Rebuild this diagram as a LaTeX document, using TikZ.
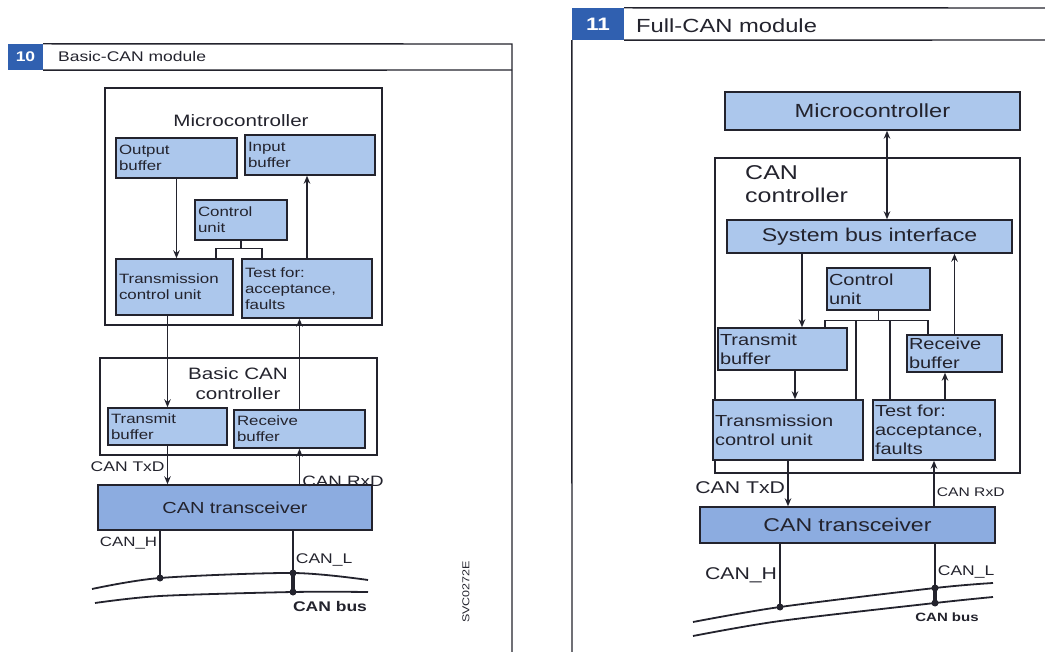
\documentclass[tikz,border=0pt]{standalone}
\usepackage{fontspec}
\setmainfont{Liberation Sans}[FakeStretch=1.25]
\usepackage{tikz}
\usetikzlibrary{arrows.meta}
\definecolor{boxblue}{RGB}{172,199,236}
\definecolor{trxblue}{RGB}{140,172,224}
\definecolor{tabblue}{RGB}{48,96,176}
\definecolor{inkgray}{RGB}{35,35,45}

\begin{document}
\begin{tikzpicture}[
  x=1pt, y=-1pt,
  >={Stealth[length=8pt, width=6.5pt]},
  every node/.style={text=inkgray},
  frame/.style={draw=inkgray, line width=1.3pt, inner sep=0pt},
  blk/.style={draw=inkgray, fill=boxblue, line width=1.4pt, align=left, inner sep=3pt, font=\fontsize{13.5}{16}\selectfont},
  bigblk/.style={blk, inner sep=2pt, font=\fontsize{16}{19}\selectfont},
  bar/.style={blk, fill=trxblue, align=center},
  ttl/.style={align=center, inner sep=0pt, font=\fontsize{16.5}{20}\selectfont},
  arrow/.style={->, line width=1.8pt, draw=inkgray},
  darrow/.style={<->, line width=1.8pt, draw=inkgray},
  link/.style={line width=1.4pt, draw=inkgray},
  wire/.style={line width=1.8pt, draw=inkgray},
  lbl/.style={inner sep=2pt, font=\fontsize{14}{16}\selectfont},
  tab/.style={fill=tabblue, text=white, inner sep=0pt, font=\bfseries\fontsize{14}{16}\selectfont},
  hdr/.style={inner sep=0pt, font=\fontsize{14}{16}\selectfont},
  band/.style={draw=inkgray, line width=1.4pt}
]
  \useasboundingbox (0,0) rectangle (1045,652);

  % Seite 10: Kopf
  \node[tab, minimum width=35pt, minimum height=26pt] (tabL) at (25.5,57) {10};
  \node[hdr, anchor=west] (hdrL) at (58,56) {Basic-CAN module};
  \draw[band] (tabL.north east) -- (512,44) -- (512,652);
  \draw[band] (tabL.south east) -- (512,70);
  \node[rotate=90, inner sep=0pt, font=\fontsize{10}{12}\selectfont] (figcode) at (466,592) {SVC0272E};

  % Microcontroller
  \node[frame, minimum width=277pt, minimum height=237pt] (mcu) at (243.5,206.5) {};
  \node[ttl] (mcutitle) at (241,121) {Microcontroller};
  \node[blk, text width=115pt, minimum height=40pt] (outbuf) at (176.5,158) {Output\\buffer};
  \node[blk, text width=124pt, minimum height=40pt] (inbuf) at (310,155) {Input\\buffer};
  \node[blk, text width=86pt, minimum height=40pt] (ctrl) at (241,220) {Control\\unit};
  \node[blk, text width=111pt, minimum height=56pt] (tcu) at (174.5,287) {Transmission\\control unit};
  \node[blk, text width=124pt, minimum height=59pt] (test) at (307,288.5) {Test for:\\acceptance,\\faults};

  % Basic CAN controller
  \node[frame, minimum width=277pt, minimum height=97pt] (bcc) at (238.5,406.5) {};
  \node[ttl] (bcctitle) at (238,384) {Basic CAN\\controller};
  \node[blk, text width=113pt, minimum height=37pt] (txbuf) at (167.5,426.5) {Transmit\\buffer};
  \node[blk, text width=125pt, minimum height=38pt] (rxbuf) at (299.5,429) {Receive\\buffer};
  \node[bar, text width=268pt, minimum height=45pt, font=\fontsize{16}{19}\selectfont] (trx) at (235,507.5) {CAN transceiver};

  % Pfeile
  \draw[arrow] (outbuf.south) -- (outbuf.south |- tcu.north);
  \draw[arrow] (test.north) -- (test.north |- inbuf.south);
  \draw[link] (ctrl.south) -- ++(0,8) coordinate (cb);
  \coordinate (cbl) at ([xshift=-25pt]cb);
  \coordinate (cbr) at ([xshift=21pt]cb);
  \draw[link] (cbl |- tcu.north) -- (cbl) -- (cbr) -- (cbr |- test.north);
  \draw[arrow] (txbuf.north |- tcu.south) -- (txbuf.north);
  \draw[arrow] (rxbuf.north) -- (rxbuf.north |- test.south);
  \draw[arrow] (txbuf.south) -- (txbuf.south |- trx.north) node[lbl, pos=0.55, left] (txdL) {CAN TxD};
  \draw[arrow] (rxbuf.south |- trx.north) -- (rxbuf.south) node[lbl, pos=0.08, right, font=\fontsize{15}{17}\selectfont] (rxdL) {CAN RxD};

  % CAN-Bus
  \coordinate (hj) at (160,578);
  \coordinate (lj) at (293,573);
  \coordinate (ljb) at (293,592);
  \draw[wire] plot[smooth] coordinates {(92,589) (160,578) (293,573) (368,580)};
  \draw[wire] plot[smooth] coordinates {(95,603) (160,596) (293,592) (368,592)};
  \draw[wire] (hj |- trx.south) -- (hj) node[lbl, pos=0.27, left, font=\fontsize{13.5}{16}\selectfont] (canhL) {CAN\_H};
  \draw[wire] (lj |- trx.south) -- (lj) node[lbl, pos=0.7, right] (canlL) {CAN\_L};
  \draw[line width=4.5pt, inkgray] (lj) -- (ljb);
  \fill[inkgray] (hj) circle (3.5pt) (lj) circle (3.5pt) (ljb) circle (3.5pt);
  \node[lbl, font=\bfseries\fontsize{14}{16}\selectfont] (busL) at (330,606) {CAN bus};

  % Seite 11: Kopf
  \node[tab, minimum width=52pt, minimum height=32pt, font=\bfseries\fontsize{18}{20}\selectfont] (tabR) at (598,24) {11};
  \node[hdr, anchor=west, font=\fontsize{19}{21}\selectfont] (hdrR) at (636,26) {Full-CAN module};
  \draw[band] (tabR.north east) -- (1045,8);
  \draw[band] (tabR.south east) -- (1045,40);
  \draw[band] (tabR.south west) -- (572,652);

  % Microcontroller und CAN controller
  \node[bigblk, align=center, text width=291pt, minimum height=38pt, font=\fontsize{19}{22}\selectfont] (mcu2) at (872.5,111) {Microcontroller};
  \node[frame, minimum width=305pt, minimum height=315pt] (cc) at (867.5,315.5) {};
  \node[ttl, align=left, anchor=west, font=\fontsize{20}{23}\selectfont] (cctitle) at (745,184) {CAN\\controller};
  \node[bigblk, align=center, text width=281pt, minimum height=33pt, font=\fontsize{18.5}{21}\selectfont] (sbi) at (869.5,236.5) {System bus interface};
  \node[bigblk, text width=99pt, minimum height=42pt] (ctrl2) at (878.5,289) {Control\\unit};
  \node[bigblk, text width=125pt, minimum height=42pt] (txbuf2) at (782.5,349) {Transmit\\buffer};
  \node[bigblk, text width=91pt, minimum height=37pt] (rxbuf2) at (954.5,353.5) {Receive\\buffer};
  \node[bigblk, text width=146pt, minimum height=60pt] (tcu2) at (788,430) {Transmission\\control unit};
  \node[bigblk, text width=118pt, minimum height=60pt] (test2) at (934,430) {Test for:\\acceptance,\\faults};
  \node[bar, inner sep=2pt, text width=291pt, minimum height=36pt, font=\fontsize{18.5}{21}\selectfont] (trx2) at (847.5,525) {CAN transceiver};

  % Pfeile
  \coordinate (m2) at ([xshift=14.5pt]mcu2.south);
  \draw[darrow] (m2) -- (m2 |- sbi.north);
  \coordinate (s2) at ([xshift=19.5pt]txbuf2.north);
  \draw[arrow] (s2 |- sbi.south) -- (s2);
  \draw[arrow] (rxbuf2.north) -- (rxbuf2.north |- sbi.south);
  \draw[link] (ctrl2.south) -- ++(0,10) coordinate (cb2);
  \coordinate (cb2a) at ([xshift=-53.5pt]cb2);
  \coordinate (cb2b) at ([xshift=-22.5pt]cb2);
  \coordinate (cb2c) at ([xshift=11.5pt]cb2);
  \coordinate (cb2d) at ([xshift=49.5pt]cb2);
  \draw[link] (cb2a |- txbuf2.north) -- (cb2a) -- (cb2d) -- (cb2d |- rxbuf2.north);
  \draw[link] (cb2b) -- (cb2b |- tcu2.north);
  \draw[link] (cb2c) -- (cb2c |- test2.north);
  \coordinate (t2) at ([xshift=12.5pt]txbuf2.south);
  \draw[arrow] (t2) -- (t2 |- tcu2.north);
  \coordinate (r2) at ([xshift=-9.5pt]rxbuf2.south);
  \draw[arrow] (r2 |- test2.north) -- (r2);
  \draw[arrow] (tcu2.south) -- (tcu2.south |- trx2.north) node[lbl, pos=0.6, left, font=\fontsize{17}{19}\selectfont] (txdR) {CAN TxD};
  \draw[arrow] (test2.south |- trx2.north) -- (test2.south) node[lbl, pos=0.3, right, font=\fontsize{12.5}{15}\selectfont] (rxdR) {CAN RxD};

  % CAN-Bus
  \coordinate (hj2) at (780,607);
  \coordinate (lj2) at (935,588);
  \coordinate (lj2b) at (935,603);
  \draw[wire] plot[smooth] coordinates {(693,622) (780,607) (935,588) (993,583)};
  \draw[wire] plot[smooth] coordinates {(693,636) (780,621) (935,603) (993,597)};
  \draw[wire] (hj2 |- trx2.south) -- (hj2) node[lbl, pos=0.5, left, font=\fontsize{17}{19}\selectfont] (canhR) {CAN\_H};
  \draw[wire] (lj2 |- trx2.south) -- (lj2) node[lbl, pos=0.65, right] (canlR) {CAN\_L};
  \draw[line width=4.5pt, inkgray] (lj2) -- (lj2b);
  \fill[inkgray] (hj2) circle (3.5pt) (lj2) circle (3.5pt) (lj2b) circle (3.5pt);
  \node[lbl, font=\bfseries\fontsize{12}{14}\selectfont] (busR) at (947,617) {CAN bus};

\end{tikzpicture}
\end{document}
